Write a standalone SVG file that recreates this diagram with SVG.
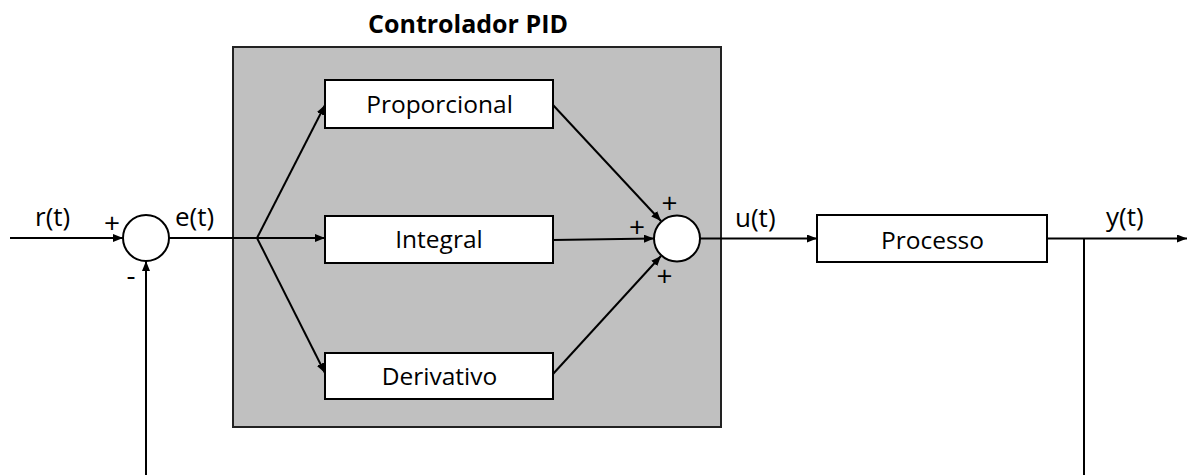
<svg xmlns="http://www.w3.org/2000/svg" width="1187" height="475" viewBox="0 0 1187 475">
  <defs>
    <marker id="arrow" viewBox="0 0 10 8" refX="10" refY="4" markerWidth="10" markerHeight="8" markerUnits="userSpaceOnUse" orient="auto">
      <path d="M0,0 L10,4 L0,8 Z" fill="#000"/>
    </marker>
    <style>
      .block { fill: #fff; stroke: #000; stroke-width: 2; }
      .sum { fill: #fff; stroke: #000; stroke-width: 2; }
      .wire { fill: none; stroke: #000; stroke-width: 2; }
      .arr { marker-end: url(#arrow); }
      .lbl { font-family: "Open Sans", "DejaVu Sans", sans-serif; font-size: 24.5px; fill: #000; }
      .sig { font-family: "Open Sans", "DejaVu Sans", sans-serif; font-size: 26px; fill: #000; }
      .mid { text-anchor: middle; }
      .sign { font-family: "Open Sans", "DejaVu Sans", sans-serif; font-size: 28px; fill: #000; text-anchor: middle; }
      .title { font-family: "Open Sans", "DejaVu Sans", sans-serif; font-size: 25px; font-weight: bold; fill: #000; text-anchor: middle; }
    </style>
  </defs>

  <!-- PID controller enclosure -->
  <g id="pid">
    <rect x="233" y="47" width="488" height="380" fill="#c0c0c0" stroke="#222" stroke-width="2"/>
    <text class="title" x="468" y="33">Controlador PID</text>
  </g>

  <!-- signal wires -->
  <g id="connectors">
    <line class="wire arr" x1="10" y1="238" x2="123" y2="238"/>
    <line class="wire" x1="169" y1="238" x2="257" y2="238"/>
    <line class="wire arr" x1="257" y1="238" x2="325" y2="238"/>
    <line class="wire arr" x1="257" y1="238" x2="325" y2="105"/>
    <line class="wire arr" x1="257" y1="238" x2="325" y2="373"/>
    <line class="wire arr" x1="553" y1="105" x2="661" y2="221"/>
    <line class="wire arr" x1="553" y1="240" x2="654" y2="238.5"/>
    <line class="wire arr" x1="553" y1="374" x2="661" y2="256"/>
    <line class="wire arr" x1="700" y1="238.5" x2="817" y2="238.5"/>
    <line class="wire arr" x1="1047" y1="238.5" x2="1187" y2="238.5"/>
    <line class="wire" x1="1084" y1="238.5" x2="1084" y2="475"/>
    <line class="wire arr" x1="146" y1="475" x2="146" y2="261"/>
  </g>

  <!-- input summing junction -->
  <g id="sum-error">
    <circle class="sum" cx="146" cy="238" r="23"/>
    <text class="sign" x="112" y="232.5">+</text>
    <text class="sign" x="131" y="285">-</text>
  </g>

  <!-- output summing junction -->
  <g id="sum-control">
    <circle class="sum" cx="677" cy="238.5" r="23"/>
    <text class="sign" x="669.5" y="212.5">+</text>
    <text class="sign" x="637" y="236.5">+</text>
    <text class="sign" x="664.5" y="286">+</text>
  </g>

  <g id="proporcional">
    <rect class="block" x="325" y="80" width="228" height="48"/>
    <text class="lbl mid" x="439.5" y="113">Proporcional</text>
  </g>

  <g id="integral">
    <rect class="block" x="325" y="216" width="228" height="47"/>
    <text class="lbl mid" x="439" y="248">Integral</text>
  </g>

  <g id="derivativo">
    <rect class="block" x="325" y="353" width="228" height="46"/>
    <text class="lbl mid" x="439.5" y="385">Derivativo</text>
  </g>

  <g id="processo">
    <rect class="block" x="817" y="215" width="230" height="47"/>
    <text class="lbl mid" x="932.5" y="249">Processo</text>
  </g>

  <!-- signal names -->
  <g id="signals">
    <text class="sig" x="35" y="226">r(t)</text>
    <text class="sig" x="175" y="226">e(t)</text>
    <text class="sig" x="735" y="227">u(t)</text>
    <text class="sig" x="1106" y="226">y(t)</text>
  </g>
</svg>
